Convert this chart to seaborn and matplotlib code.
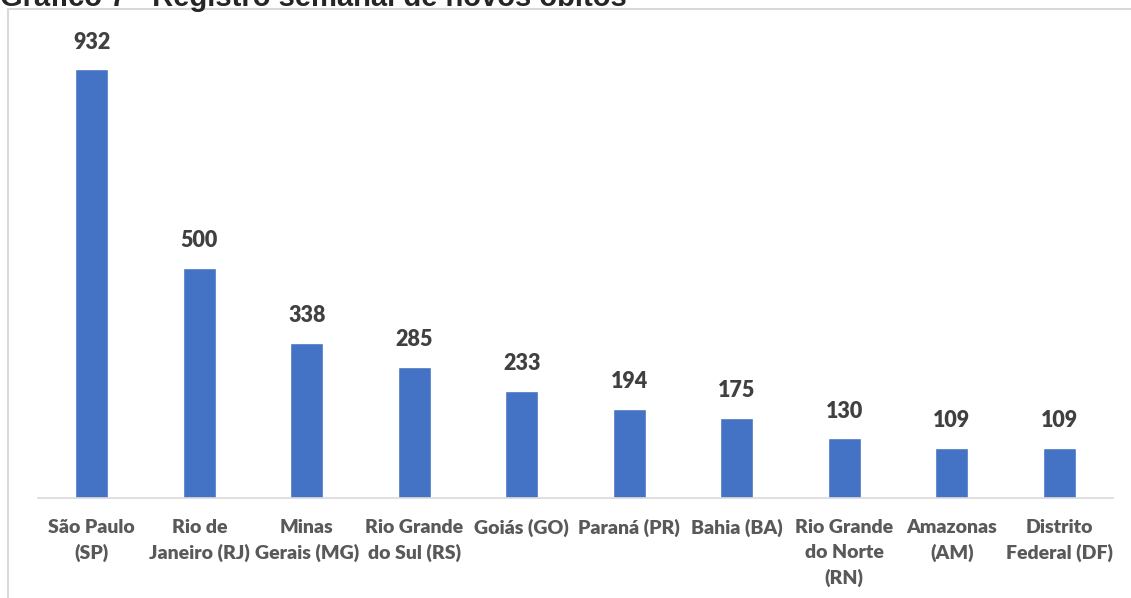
import matplotlib
matplotlib.use('Agg')
import matplotlib.pyplot as plt
from matplotlib.lines import Line2D
import seaborn as sns
import pandas as pd

estados = ['São Paulo\n(SP)', 'Rio de\nJaneiro (RJ)', 'Minas\nGerais (MG)', 'Rio Grande\ndo Sul (RS)',
           'Goiás (GO)', 'Paraná (PR)', 'Bahia (BA)', 'Rio Grande\ndo Norte\n(RN)',
           'Amazonas\n(AM)', 'Distrito\nFederal (DF)']
obitos = [932, 500, 338, 285, 233, 194, 175, 130, 109, 109]

df = pd.DataFrame({'estado': estados, 'obitos': obitos})

sns.set_style('white')
plt.rcParams['font.family'] = ['Lato', 'DejaVu Sans']

fig = plt.figure(figsize=(11.31, 5.98), dpi=100)
ax = fig.add_axes([38/1131, 100/598, 1075/1131, 460/598])

sns.barplot(data=df, x='estado', y='obitos', color='#4472C4', width=0.31,
            saturation=1, ax=ax)
ax.set_xlim(-0.5, 9.5)
ax.set_ylim(0, 1000)

for i, v in enumerate(obitos):
    ax.annotate(str(v), (i, v), xytext=(0, 12), textcoords='offset points',
                ha='center', va='bottom', fontsize=15.5, fontweight='heavy', color='#404040')

ax.set_xlabel('')
ax.set_ylabel('')
ax.set_yticks([])
ax.tick_params(axis='x', length=0, pad=15)
for lbl in ax.get_xticklabels():
    lbl.set_fontsize(14)
    lbl.set_fontweight('heavy')
    lbl.set_color('#595959')
    lbl.set_linespacing(1.55)
    lbl.set_verticalalignment('top')

for s in ['top', 'right', 'left']:
    ax.spines[s].set_visible(False)
ax.spines['bottom'].set_color('#D9D9D9')
ax.spines['bottom'].set_linewidth(1.2)

# moldura cinza do grafico
fig.add_artist(Line2D([8/1131, 1.0], [1 - 9/598, 1 - 9/598], color='#D9D9D9', lw=1.5))
fig.add_artist(Line2D([8/1131, 8/1131], [0, 1 - 9/598], color='#D9D9D9', lw=1.5))

fig.text(0.0, 1.0 + 2/598, 'Gráfico 7 - Registro semanal de novos óbitos', fontsize=21,
         fontweight='bold', family=['Liberation Sans', 'DejaVu Sans'], va='center', ha='left')

fig.savefig('out.png', dpi=100)
